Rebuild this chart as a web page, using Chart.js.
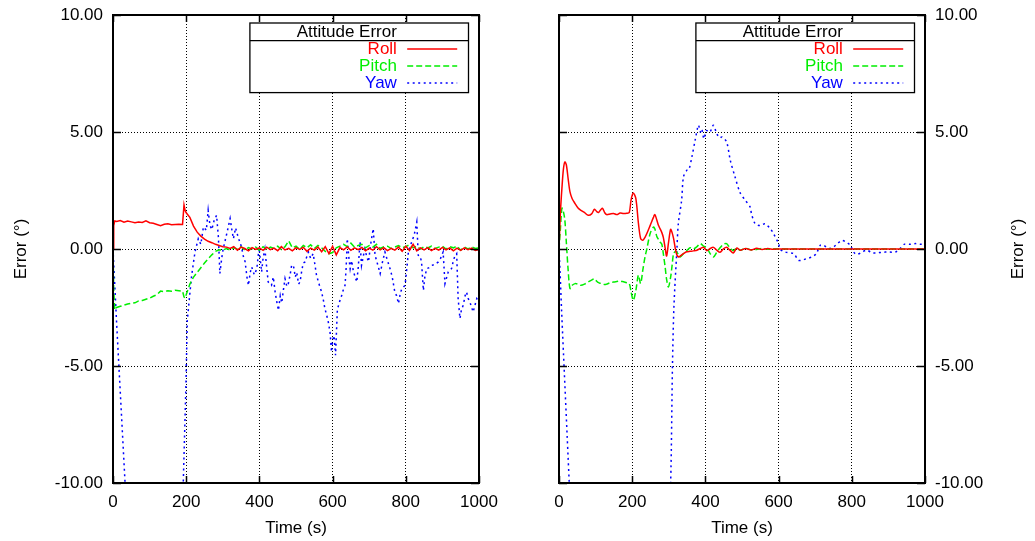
<!DOCTYPE html>
<html>
<head>
<meta charset="utf-8">
<script src="https://cdn.jsdelivr.net/npm/chart.js@4"></script>
<style>
  body { margin: 0; background: #fff; }
  #wrap { position: relative; width: 1035px; height: 541px; }
  canvas { position: absolute; top: 0; }
  #left { left: 0; }
  #right { left: 520px; }
</style>
</head>
<body>
<div id="wrap">
  <canvas id="left" width="520" height="541"></canvas>
  <canvas id="right" width="515" height="541"></canvas>
</div>
<script>
const xTicks = [0, 200, 400, 600, 800, 1000];
const yTicks = [-10, -5, 0, 5, 10];
const seriesNames = ['Roll', 'Pitch', 'Yaw'];
const seriesColors = ['#ff0000', '#00ee00', '#0000ff'];
const legendTitle = 'Attitude Error';
const xTitle = 'Time (s)';
const yTitle = 'Error (°)';

// left plot: roll / pitch share a time grid
const leftTime = [
  0, 2, 5, 10, 20, 30, 40, 50, 60, 70,
  80, 90, 100, 110, 120, 130, 140, 150, 160, 170,
  180, 190, 194, 197, 200, 210, 220, 230, 240, 250,
  260, 270, 280, 290, 300, 310, 320, 330, 340, 350,
  360, 370, 380, 390, 400, 410, 420, 430, 440, 450,
  460, 470, 480, 490, 500, 510, 520, 530, 540, 550,
  560, 570, 580, 590, 600, 610, 620, 630, 640, 650,
  660, 670, 680, 690, 700, 710, 720, 730, 740, 750,
  760, 770, 780, 790, 800, 810, 820, 830, 840, 850,
  860, 870, 880, 890, 900, 910, 920, 930, 940, 950,
  960, 970, 980, 990, 1000
];
const leftRoll = [
  0, 1.0, 1.2, 1.18, 1.22, 1.15, 1.2, 1.16, 1.12, 1.15,
  1.13, 1.2, 1.12, 1.1, 1.05, 1.0, 1.06, 1.08, 1.04, 1.05,
  1.06, 1.05, 1.88, 1.65, 1.55, 1.35, 0.98, 0.72, 0.55, 0.42,
  0.33, 0.27, 0.2, 0.15, 0.1, 0.08, 0.02, 0.1, -0.05, 0.08,
  0.02, -0.08, 0.06, -0.02, 0.05, -0.06, 0.08, -0.03, 0.04, -0.07,
  0.1, -0.04, 0.03, -0.08, 0.06, -0.02, 0.07, -0.1, 0.04, -0.05,
  0.08, -0.12, 0.1, -0.2, 0.12, -0.25, 0.06, -0.04, 0.09, -0.06,
  0.05, -0.03, 0.07, -0.08, 0.04, -0.05, 0.1, -0.04, 0.06, -0.07,
  0.03, -0.05, 0.08, -0.1, 0.12, -0.06, 0.2, -0.08, 0.05, -0.04,
  0.06, -0.07, 0.03, -0.05, 0.07, -0.04, 0.05, -0.08, 0.04, -0.06,
  0.05, -0.03, 0.04, -0.06, -0.02
];
const leftPitch = [
  0, -1.8, -2.6, -2.5, -2.45, -2.4, -2.35, -2.32, -2.3, -2.22,
  -2.2, -2.15, -2.1, -2.02, -1.95, -1.8, -1.82, -1.78, -1.8, -1.76,
  -1.78, -1.8, -2.05, -2.1, -1.95, -1.5, -1.2, -1.0, -0.8, -0.6,
  -0.42, -0.25, -0.1, -0.03, -0.05, 0.02, -0.04, 0.05, 0.0, 0.1,
  -0.05, 0.06, 0.0, 0.08, -0.05, 0.1, -0.03, 0.08, 0.02, 0.12,
  -0.02, 0.1, 0.35, 0.05, 0.12, -0.02, 0.15, 0.05, 0.18, 0.02,
  0.15, 0.05, -0.1, -0.2, -0.15, 0.05, 0.12, 0.2, 0.1, 0.25,
  0.08, 0.15, 0.2, 0.05, 0.15, 0.08, 0.2, 0.02, 0.1, 0.12,
  0.02, 0.08, 0.15, 0.05, 0.1, 0.18, 0.05, 0.12, 0.0, 0.1,
  0.05, 0.12, 0.02, 0.08, 0.12, 0.0, 0.1, 0.05, 0.12, -0.05,
  0.08, 0.0, 0.1, 0.02, 0.05
];
const leftYawTime = [
  0, 10, 33, 45, 188, 192, 199, 203, 210, 215,
  224, 233, 240, 247, 255, 260, 265, 270, 276, 283,
  288, 292, 297, 301, 310, 320, 325, 329, 335, 342,
  351, 356, 361, 366, 370, 375, 379, 386, 393, 399,
  406, 410, 415, 420, 424, 433, 438, 443, 448, 452,
  457, 461, 466, 470, 475, 479, 484, 488, 493, 498,
  502, 507, 511, 516, 520, 525, 530, 534, 540, 547,
  552, 556, 563, 570, 575, 579, 584, 588, 593, 597,
  600, 604, 608, 613, 618, 625, 630, 634, 637, 640,
  644, 648, 652, 657, 662, 666, 670, 675, 679, 684,
  688, 693, 698, 704, 711, 716, 722, 730, 737, 743,
  750, 757, 763, 770, 775, 780, 785, 789, 798, 803,
  807, 812, 816, 823, 830, 834, 839, 843, 848, 852,
  857, 864, 871, 880, 889, 895, 902, 907, 912, 916,
  920, 925, 930, 934, 939, 943, 948, 952, 957, 962,
  966, 970, 975, 980, 984, 989, 994, 1000
];
const leftYaw = [
  0, -3.2, -10, -13.6, -12.3, -10, -6.0, -3.05, -1.9, -1.12,
  -0.13, 0.44, 0.2, 0.94, 0.8, 1.65, 1.0, 0.83, 1.2, 1.44,
  0.5, -1.05, -0.4, 0.0, 0.6, 1.3, 0.8, 0.44, 0.9, 0.5,
  0.09, -0.3, -0.55, -1.2, -1.55, -1.0, -0.77, -1.1, -0.85, 0.06,
  -0.98, -0.4, 0.0, -0.8, -1.41, -1.55, -1.2, -1.84, -2.3, -2.62,
  -2.0, -2.3, -1.7, -1.27, -1.6, -1.48, -1.1, -0.7, -0.7, -1.2,
  -1.0, -1.5, -1.41, -0.9, -0.6, -0.55, -0.3, -0.13, -0.4, -0.2,
  -0.7, -1.12, -1.5, -1.84, -2.2, -2.55, -2.84, -3.1, -3.55, -4.4,
  -3.9, -3.7, -4.54, -2.6, -2.3, -1.98, -1.7, -1.55, -0.8, 0.44,
  -0.3, -0.84, -0.5, -0.98, -1.2, -1.41, -0.8, 0.3, -0.7, -0.3,
  0.0, -0.3, -0.55, 0.2, 0.87, -0.27, -0.6, -1.05, -0.5, -0.13,
  -0.5, -0.84, -1.2, -1.84, -2.0, -2.33, -1.9, -1.7, -1.55, -0.8,
  -0.13, 0.1, 0.3, 0.6, 1.15, -0.27, -0.3, -0.55, -1.77, -1.2,
  -0.84, -0.8, -0.7, -0.65, -0.55, -0.4, -0.13, -1.48, -1.2, -0.98,
  -0.9, -0.84, -0.5, -0.3, -0.2, -2.12, -2.97, -2.6, -2.4, -2.0,
  -1.84, -2.1, -2.26, -2.5, -2.69, -2.4, -2.12, -2.26
];

// right plot
const rightTime = [
  0, 4, 8, 12, 16, 20, 25, 30, 36, 44,
  52, 60, 70, 80, 89, 97, 103, 108, 114, 119,
  125, 130, 140, 149, 158, 167, 176, 185, 192, 197,
  203, 210, 217, 223, 229, 235, 240, 249, 258, 262,
  267, 272, 276, 281, 285, 290, 294, 299, 305, 309,
  313, 318, 322, 327, 331, 340, 349, 358, 367, 377,
  386, 395, 404, 413, 422, 431, 440, 449, 458, 467,
  476, 486, 495, 510, 525, 540, 555, 570, 585, 600,
  650, 700, 750, 800, 850, 900, 950, 1000
];
const rightRoll = [
  0, 1.6, 2.6, 3.4, 3.72, 3.6, 3.0, 2.44, 2.15, 1.94,
  1.75, 1.65, 1.55, 1.44, 1.5, 1.7, 1.6, 1.56, 1.68, 1.74,
  1.55, 1.47, 1.5, 1.52, 1.47, 1.54, 1.52, 1.53, 1.56, 2.1,
  2.39, 2.15, 1.1, 0.45, 0.37, 0.5, 0.66, 1.0, 1.35, 1.47,
  1.25, 1.0, 0.87, 0.7, 0.5, 0.05, -0.3, 0.25, 0.84, 0.7,
  0.45, 0.0, -0.25, -0.34, -0.3, -0.2, -0.12, -0.1, -0.08, -0.05,
  0.02, 0.07, -0.07, 0.02, 0.07, -0.05, -0.14, 0.0, 0.07, -0.05,
  -0.17, 0.04, -0.05, 0.02, -0.04, 0.03, -0.02, 0.02, -0.01, 0.0,
  0.0, 0.0, 0.0, 0.0, 0.0, 0.0, 0.0, 0.0
];
const rightPitch = [
  0, 0.9, 1.75, 1.6, 1.23, 0.3, -0.9, -1.69, -1.55, -1.48,
  -1.5, -1.55, -1.5, -1.41, -1.33, -1.27, -1.38, -1.44, -1.47, -1.5,
  -1.52, -1.5, -1.44, -1.41, -1.39, -1.37, -1.4, -1.44, -1.48, -1.84,
  -2.19, -1.77, -1.12, -1.48, -0.9, -0.34, 0.0, 0.66, 0.94, 0.85,
  0.55, 0.4, 0.3, 0.2, -0.2, -0.77, -1.3, -1.62, -1.2, -0.7,
  -0.2, -0.1, -0.14, -0.25, -0.34, -0.2, -0.07, 0.05, 0.0, 0.1,
  0.23, 0.12, 0.05, -0.2, -0.34, -0.14, 0.05, 0.2, 0.23, 0.05,
  -0.07, 0.04, -0.05, 0.03, -0.04, -0.02, 0.02, -0.01, 0.01, 0.0,
  0.0, 0.0, 0.0, 0.0, 0.0, 0.0, 0.0, 0.0
];
const rightYawTime = [
  0, 3, 7, 28, 38, 295, 305, 310, 314, 322,
  326, 335, 340, 349, 355, 363, 372, 381, 386, 390,
  396, 403, 412, 422, 431, 440, 445, 458, 468, 481,
  495, 509, 522, 526, 536, 550, 563, 577, 586, 600,
  604, 618, 641, 654, 663, 677, 691, 703, 714, 723,
  737, 750, 761, 773, 787, 796, 805, 814, 828, 841,
  855, 869, 882, 900, 919, 932, 943, 960, 974, 987,
  1000
];
const rightYaw = [
  0, -1.0, -2.6, -10, -13.6, -13.5, -10, -5.0, -2.48, -0.05,
  1.08, 2.08, 3.08, 3.36, 3.4, 3.93, 4.65, 5.29, 5.0, 5.13,
  4.72, 5.06, 4.99, 5.29, 4.93, 4.75, 4.79, 4.57, 3.79, 3.08,
  2.4, 2.08, 1.8, 1.5, 1.08, 1.0, 1.08, 0.87, 0.66, 0.23,
  0.0, -0.13, -0.2, -0.48, -0.48, -0.41, -0.34, -0.2, 0.16, 0.16,
  0.02, 0.09, 0.23, 0.37, 0.27, 0.16, -0.13, -0.23, -0.13, -0.05,
  -0.16, -0.17, -0.14, -0.13, -0.13, 0.02, 0.2, 0.2, 0.23, 0.2,
  0.2
];

const FONT = '"Liberation Sans", Arial, sans-serif';
const dashes = [[], [6, 3], [2, 3.5]];

function pairs(ts, vs) {
  return ts.map((t, i) => ({ x: t, y: vs[i] }));
}

function makeSets(rows, tension) {
  return rows.map((r, i) => ({
    label: seriesNames[i],
    data: pairs(r[0], r[1]),
    borderColor: seriesColors[i],
    borderDash: dashes[i],
    borderWidth: 1.5,
    pointRadius: 0,
    tension: tension,
    fill: false
  }));
}

// frame, inner tick marks, boxed legend and the y title
const framePlugin = {
  id: 'frame',
  afterDraw(chart, args, opts) {
    const { ctx, chartArea: a, scales: { x, y } } = chart;
    ctx.save();
    ctx.strokeStyle = '#000';
    ctx.lineWidth = 1.5;
    ctx.beginPath();
    xTicks.forEach(v => {
      const px = Math.round(x.getPixelForValue(v)) + 0.5;
      ctx.moveTo(px, a.bottom); ctx.lineTo(px, a.bottom - 7);
      ctx.moveTo(px, a.top); ctx.lineTo(px, a.top + 7);
    });
    yTicks.forEach(v => {
      const py = Math.round(y.getPixelForValue(v)) + 0.5;
      ctx.moveTo(a.left, py); ctx.lineTo(a.left + 8, py);
      ctx.moveTo(a.right, py); ctx.lineTo(a.right - 8, py);
    });
    ctx.stroke();
    ctx.lineWidth = 2;
    ctx.strokeRect(a.left, a.top, a.right - a.left, a.bottom - a.top);

    // legend
    const bw = 218.6, bh = 69.6;
    const bx = a.right - 10.5 - bw, by = a.top + 8;
    const textRight = bx + bw - 71.6;
    ctx.fillStyle = '#fff';
    ctx.fillRect(bx, by, bw, bh);
    ctx.lineWidth = 1.3;
    ctx.strokeRect(bx, by, bw, bh);
    ctx.beginPath();
    ctx.moveTo(bx, by + 17.6); ctx.lineTo(bx + bw, by + 17.6);
    ctx.stroke();
    ctx.font = '17px ' + FONT;
    ctx.textBaseline = 'middle';
    ctx.textAlign = 'right';
    ctx.fillStyle = '#000';
    ctx.fillText(legendTitle, textRight, by + 9);
    chart.data.datasets.forEach((ds, i) => {
      const ry = by + 26 + i * 17;
      ctx.fillStyle = ds.borderColor;
      ctx.fillText(ds.label, textRight, ry);
      ctx.strokeStyle = ds.borderColor;
      ctx.lineWidth = 1.5;
      ctx.setLineDash(ds.borderDash);
      ctx.beginPath();
      ctx.moveTo(bx + bw - 61.3, ry); ctx.lineTo(bx + bw - 11.3, ry);
      ctx.stroke();
    });
    ctx.setLineDash([]);

    // y title, always reading upward
    ctx.translate(opts.titleX, (a.top + a.bottom) / 2);
    ctx.rotate(-Math.PI / 2);
    ctx.textAlign = 'center';
    ctx.fillStyle = '#000';
    ctx.fillText(yTitle, 0, 0);
    ctx.restore();
  }
};

function makeChart(id, sets, side) {
  const isLeft = side === 'left';
  return new Chart(document.getElementById(id), {
    type: 'line',
    data: { datasets: sets },
    plugins: [framePlugin],
    options: {
      responsive: false,
      animation: false,
      devicePixelRatio: 1,
      layout: { padding: isLeft ? { top: 15, right: 41, left: 0, bottom: 0 } : { top: 15, left: 39, right: 0, bottom: 0 } },
      plugins: {
        legend: { display: false },
        tooltip: { enabled: false },
        frame: { titleX: isLeft ? 21 : 498 }
      },
      scales: {
        x: {
          type: 'linear',
          min: 0, max: 1000,
          afterFit: s => { s.height = 58; s.paddingLeft = 0; s.paddingRight = 0; },
          afterBuildTicks: s => { s.ticks = xTicks.map(v => ({ value: v })); },
          grid: { color: '#000', lineWidth: 1, drawTicks: false },
          border: { display: false, dash: [1, 2] },
          ticks: { color: '#000', font: { family: FONT, size: 17 }, padding: 9.5, maxRotation: 0, callback: v => String(v) },
          title: { display: true, text: xTitle, color: '#000', font: { family: FONT, size: 17 }, padding: { top: 0, bottom: 2.5 } }
        },
        y: {
          position: side,
          min: -10, max: 10,
          afterFit: s => { s.width = isLeft ? 113 : 110; s.paddingTop = 0; s.paddingBottom = 0; },
          afterBuildTicks: s => { s.ticks = yTicks.map(v => ({ value: v })); },
          grid: { color: '#000', lineWidth: 1, drawTicks: false },
          border: { display: false, dash: [1, 2] },
          ticks: { color: '#000', font: { family: FONT, size: 17 }, padding: 10, callback: v => v.toFixed(2) }
        }
      }
    }
  });
}

makeChart('left', makeSets([
  [leftTime, leftRoll],
  [leftTime, leftPitch],
  [leftYawTime, leftYaw]
], 0), 'left');

makeChart('right', makeSets([
  [rightTime, rightRoll],
  [rightTime, rightPitch],
  [rightYawTime, rightYaw]
], 0.3), 'right');
</script>
</body>
</html>
